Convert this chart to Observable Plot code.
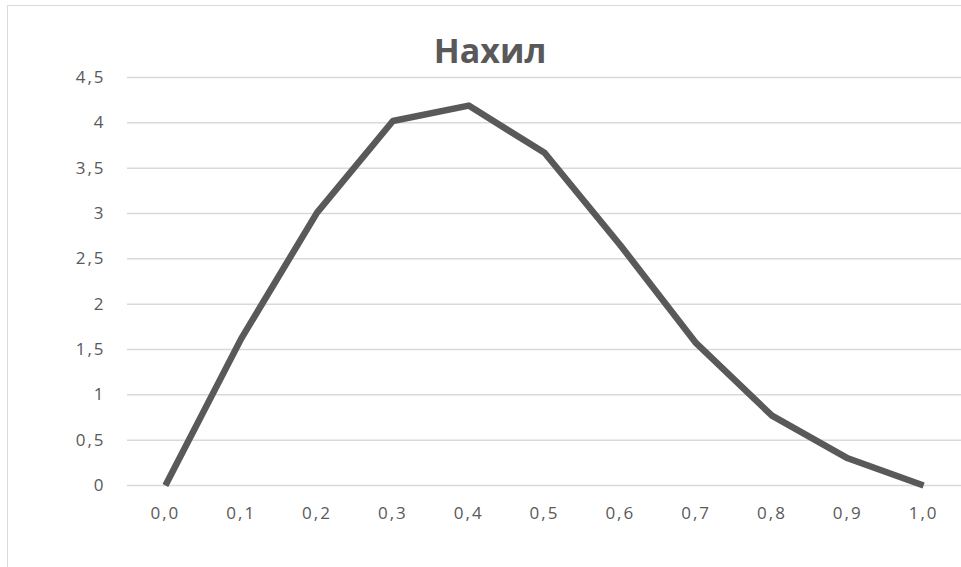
<!DOCTYPE html>
<html>
<head>
<meta charset="utf-8">
<script src="https://cdn.jsdelivr.net/npm/d3@7"></script>
<script src="https://cdn.jsdelivr.net/npm/@observablehq/plot@0.6"></script>
<style>
  html, body { margin: 0; padding: 0; background: #fff; }
  #wrap { position: relative; width: 961px; height: 567px; overflow: hidden; background: #fff; }
  #frame { position: absolute; left: 7px; top: 5px; width: 1000px; height: 600px;
           border-left: 1px solid #d9d9d9; border-top: 1px solid #d9d9d9; }
  #title { position: absolute; left: 0; top: 33px; width: 980px; text-align: center;
           font-family: "Open Sans", "Noto Sans", sans-serif; font-weight: bold;
           font-size: 34px; line-height: 34px; color: #595959; }
  #chart { position: absolute; left: 0; top: 0; }
  #chart svg text { letter-spacing: 2px; }
</style>
</head>
<body>
<div id="wrap">
  <div id="frame"></div>
  <div id="chart"></div>
  <div id="title">Нахил</div>
</div>
<script>
const categories = ["0,0", "0,1", "0,2", "0,3", "0,4", "0,5", "0,6", "0,7", "0,8", "0,9", "1,0"];
const values = [0, 1.62, 3.01, 4.02, 4.19, 3.67, 2.65, 1.57, 0.77, 0.30, 0];
const yTicks = [0, 0.5, 1, 1.5, 2, 2.5, 3, 3.5, 4, 4.5];

const data = categories.map((c, i) => ({x: c, y: values[i]}));
const fmt = d => String(d).replace(".", ",");

const chart = Plot.plot({
  width: 961,
  height: 567,
  marginTop: 77,
  marginBottom: 82,
  marginLeft: 127,
  marginRight: 0,
  style: {fontFamily: "'Open Sans', 'Noto Sans', sans-serif", fontSize: "17px", color: "#595959", background: "transparent"},
  x: {type: "point", domain: categories, padding: 0.5, round: false},
  y: {domain: [0, 4.5]},
  marks: [
    Plot.gridY(yTicks, {stroke: "#d9d9d9", strokeOpacity: 1, strokeWidth: 1.5}),
    Plot.axisY(yTicks, {tickSize: 0, tickPadding: 22, tickFormat: fmt, label: null, fill: "#595959", fontSize: 17}),
    Plot.axisX(categories, {tickSize: 0, tickPadding: 21, label: null, fill: "#595959", fontSize: 17}),
    Plot.line(data, {x: "x", y: "y", stroke: "#595959", strokeWidth: 6.5,
      strokeLinejoin: "round", strokeLinecap: "butt",
      style: "filter: drop-shadow(2px 3px 2px rgba(0,0,0,0.35))"})
  ]
});
document.getElementById("chart").appendChild(chart);
</script>
</body>
</html>
